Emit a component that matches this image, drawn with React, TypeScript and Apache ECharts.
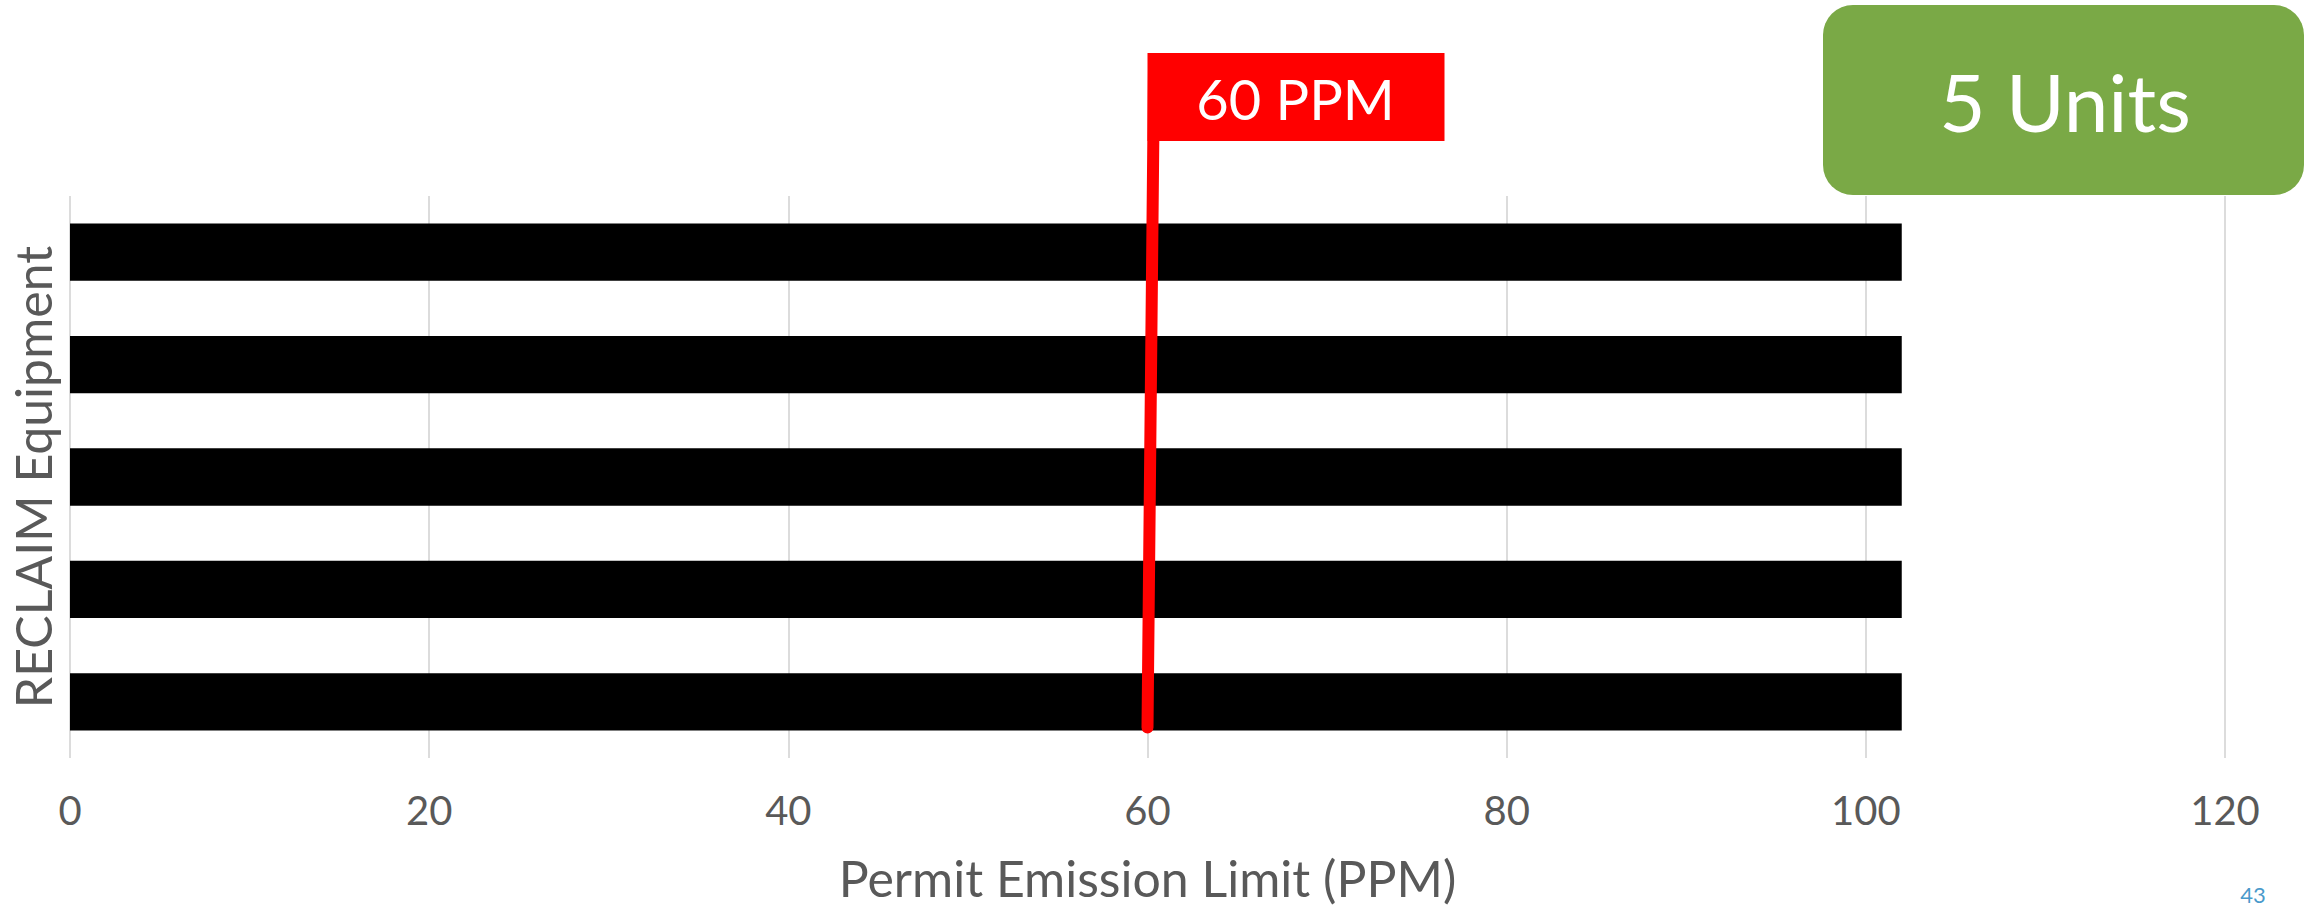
import React, { useEffect, useRef } from 'react';
import * as echarts from 'echarts';

const categories = ['Unit 1', 'Unit 2', 'Unit 3', 'Unit 4', 'Unit 5'];
const limitValues = [102, 102, 102, 102, 102];
const xMin = 0;
const xMax = 120;
const xInterval = 20;
const thresholdValue = 60;
const thresholdLabel = '60 PPM';
const unitsLabel = '5 Units';
const xAxisTitle = 'Permit Emission Limit (PPM)';
const yAxisTitle = 'RECLAIM Equipment';
const pageNumber = '43';

const FONT = 'Lato, "Open Sans", sans-serif';

export default function App() {
  const ref = useRef<HTMLDivElement>(null);

  useEffect(() => {
    if (!ref.current) return;
    const chart = echarts.init(ref.current, undefined, { renderer: 'svg' });
    const barRatio = 0.51;
    chart.setOption({
      animation: false,
      backgroundColor: '#ffffff',
      grid: { left: 69, right: 81, top: 196, bottom: 150, containLabel: false },
      xAxis: {
        type: 'value',
        min: xMin,
        max: xMax,
        interval: xInterval,
        axisLine: { show: false },
        axisTick: { show: false },
        splitLine: { show: true, lineStyle: { color: '#dcdcdc', width: 2 } },
        axisLabel: { color: '#595959', fontSize: 40, fontFamily: FONT, margin: 32 },
        name: xAxisTitle,
        nameLocation: 'middle',
        nameGap: 95,
        nameTextStyle: { color: '#595959', fontSize: 50, fontFamily: FONT },
      },
      yAxis: {
        type: 'category',
        data: categories,
        axisLine: { show: false },
        axisTick: { show: false },
        axisLabel: { show: false },
        splitLine: { show: false },
        name: yAxisTitle,
        nameLocation: 'middle',
        nameRotate: 90,
        nameGap: 12,
        nameTextStyle: { color: '#595959', fontSize: 50, fontFamily: FONT },
      },
      series: [
        {
          type: 'bar',
          data: limitValues,
          barWidth: `${barRatio * 100}%`,
          itemStyle: { color: '#000000' },
          silent: true,
        },
      ],
    });

    const x60 = chart.convertToPixel({ xAxisIndex: 0 }, thresholdValue) as number;
    const y0 = chart.convertToPixel({ yAxisIndex: 0 }, categories[0]) as number;
    const y1 = chart.convertToPixel({ yAxisIndex: 0 }, categories[1]) as number;
    const band = Math.abs(y0 - y1);
    const barBottom = y0 + (band * barRatio) / 2;

    chart.setOption({
      graphic: [
        {
          type: 'rect',
          shape: { x: x60, y: 53, width: 297, height: 88 },
          style: { fill: '#ff0000' },
          z: 10,
        },
        {
          type: 'line',
          shape: { x1: x60, y1: barBottom - 3, x2: x60 + 6.5, y2: 70 },
          style: { stroke: '#ff0000', lineWidth: 12, lineCap: 'round' },
          z: 11,
        },
        {
          type: 'text',
          x: x60 + 148,
          y: 98,
          style: {
            text: thresholdLabel,
            fill: '#ffffff',
            fontSize: 56,
            fontFamily: FONT,
            align: 'center',
            verticalAlign: 'middle',
          },
          z: 12,
        },
        {
          type: 'rect',
          shape: { x: 1823, y: 5, width: 481, height: 190, r: 30 },
          style: { fill: '#7aa946' },
          z: 10,
        },
        {
          type: 'text',
          x: 2065,
          y: 101,
          style: {
            text: unitsLabel,
            fill: '#ffffff',
            fontSize: 80,
            fontFamily: FONT,
            align: 'center',
            verticalAlign: 'middle',
          },
          z: 12,
        },
        {
          type: 'text',
          x: 2253,
          y: 894,
          style: {
            text: pageNumber,
            fill: '#4a9acb',
            fontSize: 22,
            fontFamily: FONT,
            align: 'center',
            verticalAlign: 'middle',
          },
          z: 12,
        },
      ],
    });

    return () => chart.dispose();
  }, []);

  return (
    <div
      ref={ref}
      style={{ position: 'absolute', left: 0, top: 0, width: 2306, height: 908 }}
    />
  );
}
